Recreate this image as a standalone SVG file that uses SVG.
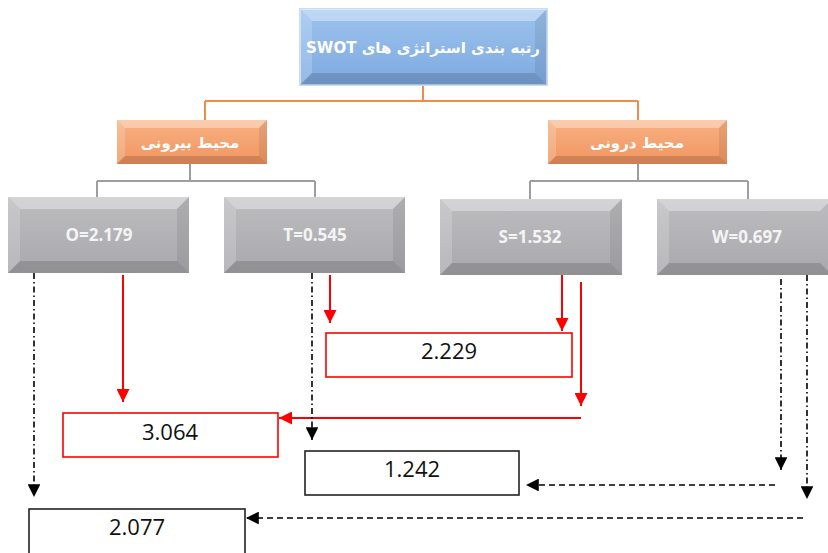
<svg xmlns="http://www.w3.org/2000/svg" width="828" height="553" viewBox="0 0 828 553">
<style>
.fa{font-family:"DejaVu Sans","Noto Sans",sans-serif;font-weight:bold;fill:#fff;text-anchor:middle}
.gt{font-family:"Open Sans","Liberation Sans",sans-serif;font-weight:bold;font-size:17px;fill:#f4f4f4;text-anchor:middle}
.nt{font-family:"Open Sans","Liberation Sans",sans-serif;font-size:22px;fill:#111;text-anchor:middle}
.bt{fill:#fff;opacity:.35}
.bl{fill:#fff;opacity:.18}
.br{fill:#000;opacity:.08}
.bb{fill:#000;opacity:.14}
.org{stroke:#F28B45;stroke-width:2;fill:none}
.gry{stroke:#9E9E9E;stroke-width:2;fill:none}
.red{stroke:#FF0000;stroke-width:2;fill:none;marker-end:url(#ar)}
.dd{stroke:#000;stroke-width:1.6;fill:none;stroke-dasharray:6 3 1.5 3;marker-end:url(#ab)}
.dh{stroke:#000;stroke-width:1.6;fill:none;stroke-dasharray:6 4;marker-end:url(#ab)}
.rb{fill:#fff;stroke:#FF0000;stroke-width:1.6}
.kb{fill:#fff;stroke:#222;stroke-width:1.6}
</style>
<defs>
<linearGradient id="gb" x1="0" y1="0" x2="0" y2="1"><stop offset="0" stop-color="#9CC3EE"/><stop offset="1" stop-color="#7FAAE0"/></linearGradient>
<linearGradient id="go" x1="0" y1="0" x2="0" y2="1"><stop offset="0" stop-color="#F9B183"/><stop offset="1" stop-color="#F09560"/></linearGradient>
<linearGradient id="gg" x1="0" y1="0" x2="0" y2="1"><stop offset="0" stop-color="#BDBDC0"/><stop offset="1" stop-color="#A9A9AD"/></linearGradient>
<marker id="ar" viewBox="0 0 10 10" refX="10" refY="5" markerWidth="6.5" markerHeight="6.5" orient="auto"><path d="M0,0L10,5L0,10z" fill="#FF0000"/></marker>
<marker id="ab" viewBox="0 0 10 10" refX="10" refY="5" markerWidth="8" markerHeight="8" orient="auto"><path d="M0,0L10,5L0,10z" fill="#000"/></marker>
</defs>

<g id="connectors">
<path class="org" d="M423,85V101M205,101H638M205,101V120M638,101V120"/>
<path class="gry" d="M190,164V181M97,181H315M97,181V197M315,181V197M638,164V181M530,181H748M530,181V199M748,181V199"/>
<path class="red" d="M123,275V402"/>
<path class="red" d="M330,275V323"/>
<path class="red" d="M562,275V331"/>
<path class="red" d="M581,282V406"/>
<path class="red" d="M581,418H279"/>
<path class="dd" d="M34,273V497"/>
<path class="dd" d="M312,273V440"/>
<path class="dd" d="M781,279V470"/>
<path class="dd" d="M807,275V499"/>
<path class="dh" d="M775,485H526"/>
<path class="dh" d="M803,518H246"/>
</g>

<g id="swot">
<rect x="300" y="9" width="247" height="76" fill="url(#gb)" stroke="#C9DCF3" stroke-width="2"/>
<polygon class="bt" points="300,9 547,9 535,21 312,21"/>
<polygon class="bl" points="300,9 312,21 312,73 300,85"/>
<polygon class="br" points="547,9 547,85 535,73 535,21"/>
<polygon class="bb" points="300,85 547,85 535,73 312,73"/>
<text class="fa" x="423" y="53" font-size="15">SWOT رتبه بندی استراتژی های</text>
</g>

<g id="external">
<rect x="117" y="120" width="150" height="44" fill="url(#go)"/>
<polygon class="bt" points="117,120 267,120 259,128 125,128"/>
<polygon class="bl" points="117,120 125,128 125,156 117,164"/>
<polygon class="br" points="267,120 267,164 259,156 259,128"/>
<polygon class="bb" points="117,164 267,164 259,156 125,156"/>
<text class="fa" x="190" y="148" font-size="15">محیط بیرونی</text>
</g>

<g id="internal">
<rect x="548" y="120" width="179" height="44" fill="url(#go)"/>
<polygon class="bt" points="548,120 727,120 719,128 556,128"/>
<polygon class="bl" points="548,120 556,128 556,156 548,164"/>
<polygon class="br" points="727,120 727,164 719,156 719,128"/>
<polygon class="bb" points="548,164 727,164 719,156 556,156"/>
<text class="fa" x="637" y="148" font-size="15">محیط درونی</text>
</g>

<g id="O">
<rect x="8" y="197" width="181" height="76" fill="url(#gg)"/>
<polygon class="bt" points="8,197 189,197 177,209 20,209"/>
<polygon class="bl" points="8,197 20,209 20,261 8,273"/>
<polygon class="br" points="189,197 189,273 177,261 177,209"/>
<polygon class="bb" points="8,273 189,273 177,261 20,261"/>
<text class="gt" x="99" y="241">O=2.179</text>
</g>

<g id="T">
<rect x="224" y="197" width="181" height="76" fill="url(#gg)"/>
<polygon class="bt" points="224,197 405,197 393,209 236,209"/>
<polygon class="bl" points="224,197 236,209 236,261 224,273"/>
<polygon class="br" points="405,197 405,273 393,261 393,209"/>
<polygon class="bb" points="224,273 405,273 393,261 236,261"/>
<text class="gt" x="315" y="241">T=0.545</text>
</g>

<g id="S">
<rect x="440" y="199" width="182" height="76" fill="url(#gg)"/>
<polygon class="bt" points="440,199 622,199 610,211 452,211"/>
<polygon class="bl" points="440,199 452,211 452,263 440,275"/>
<polygon class="br" points="622,199 622,275 610,263 610,211"/>
<polygon class="bb" points="440,275 622,275 610,263 452,263"/>
<text class="gt" x="530" y="243">S=1.532</text>
</g>

<g id="W">
<rect x="657" y="199" width="175" height="76" fill="url(#gg)"/>
<polygon class="bt" points="657,199 832,199 820,211 669,211"/>
<polygon class="bl" points="657,199 669,211 669,263 657,275"/>
<polygon class="bb" points="657,275 832,275 820,263 669,263"/>
<text class="gt" x="747" y="243">W=0.697</text>
</g>

<g id="v2229"><rect class="rb" x="326" y="333" width="246" height="44"/><text class="nt" x="449" y="359">2.229</text></g>
<g id="v3064"><rect class="rb" x="63" y="413" width="215" height="44"/><text class="nt" x="170" y="440">3.064</text></g>
<g id="v1242"><rect class="kb" x="305" y="451" width="214" height="44"/><text class="nt" x="412" y="477">1.242</text></g>
<g id="v2077"><rect class="kb" x="29" y="509" width="216" height="46"/><text class="nt" x="137" y="535">2.077</text></g>
</svg>
